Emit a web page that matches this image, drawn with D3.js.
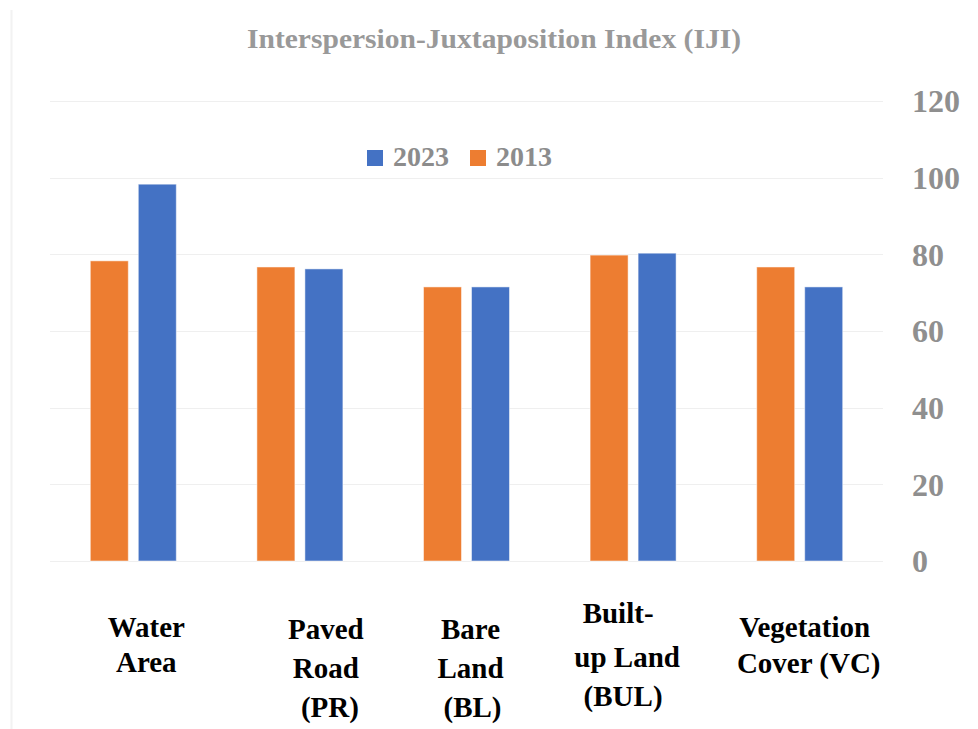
<!DOCTYPE html>
<html>
<head>
<meta charset="utf-8">
<script src="https://cdn.jsdelivr.net/npm/d3@7"></script>
<style>
  html, body { margin: 0; padding: 0; background: #fff; }
  svg { display: block; }
</style>
</head>
<body>
<svg id="chart" width="978" height="729" font-family="Liberation Serif" font-weight="bold"></svg>
<script>
// ---- data ----
const categories = ["Water Area", "Paved Road (PR)", "Bare Land (BL)", "Built-up Land (BUL)", "Vegetation Cover (VC)"];
const categoryLines = [
  ["Water", "Area"],
  ["Paved", "Road", "(PR)"],
  ["Bare", "Land", "(BL)"],
  ["Built-", "up Land", "(BUL)"],
  ["Vegetation", "Cover (VC)"]
];
const seriesNames = ["2013", "2023"];
const values2013 = [78.3, 76.7, 71.5, 79.8, 76.7];
const values2023 = [98.3, 76.2, 71.5, 80.3, 71.5];
const yTicks = [0, 20, 40, 60, 80, 100, 120];
const legendOrder = ["2023", "2013"];
const titleText = "Interspersion-Juxtaposition Index (IJI)";

// ---- layout ----
const FONT = "Liberation Serif";
const colors = { "2013": "#ED7D31", "2023": "#4472C4" };
const labelDx = [13, 26, 4, -10, 6];
const labelLineDx = [[0, 0], [0, 0, 4], [0, 0, 2], [-5, 4, 0], [-1, 3]];
const labelBaselines = [[637, 672], [639, 678, 717], [639, 678, 717], [623, 667, 706], [637, 673]];

const svg = d3.select("#chart");

// faint frame line on left
svg.append("line").attr("x1", 11.5).attr("x2", 11.5).attr("y1", 10).attr("y2", 729)
  .attr("stroke", "#f2f2f2").attr("stroke-width", 2);

const x = d3.scaleBand().domain(categories).range([50, 883]).paddingInner(0).paddingOuter(0);
const xs = d3.scaleBand().domain(seriesNames).range([0, 86]).paddingInner(10 / 48).paddingOuter(0);
const y = d3.scaleLinear().domain([0, 120]).range([561, 101]);

// gridlines
svg.append("g")
  .selectAll("line").data(yTicks).join("line")
  .attr("x1", 50).attr("x2", 883)
  .attr("y1", d => Math.round(y(d)) + 0.5).attr("y2", d => Math.round(y(d)) + 0.5)
  .attr("stroke", "#efefef").attr("stroke-width", 1.2);

// y axis on right (labels only)
const yAxis = d3.axisRight(y).tickValues(yTicks).tickSize(0).tickPadding(0).tickFormat(d3.format("d"));
const ya = svg.append("g").attr("transform", "translate(912,0)").call(yAxis);
ya.select(".domain").remove();
ya.attr("font-family", FONT).attr("font-size", 32).attr("font-weight", "bold");
ya.selectAll("text")
  .attr("font-family", FONT)
  .attr("fill", "#8f8f8f")
  .attr("dy", "0.34em");

// bars
const series = seriesNames.map(s => ({ name: s, values: s === "2013" ? values2013 : values2023 }));
const groups = svg.append("g").selectAll("g").data(categories).join("g")
  .attr("transform", d => `translate(${x(d) + x.bandwidth() / 2 - 43},0)`);
groups.selectAll("rect")
  .data((d, i) => series.map(s => ({ key: s.name, value: s.values[i] })))
  .join("rect")
  .attr("x", d => xs(d.key))
  .attr("width", xs.bandwidth())
  .attr("y", d => y(d.value))
  .attr("height", d => y(0) - y(d.value))
  .attr("fill", d => colors[d.key])
  .attr("stroke", "rgba(255,255,255,0.5)")
  .attr("stroke-width", 1);

// title
svg.append("text")
  .attr("x", 494).attr("y", 48)
  .attr("text-anchor", "middle")
  .attr("font-family", FONT)
  .attr("font-size", 27)
  .attr("fill", "#999999")
  .attr("textLength", 494)
  .attr("lengthAdjust", "spacingAndGlyphs")
  .text(titleText);

// legend
const legendX = [367, 470];
const leg = svg.append("g").selectAll("g").data(legendOrder).join("g")
  .attr("transform", (d, i) => `translate(${legendX[i]},150)`);
leg.append("rect").attr("width", 16).attr("height", 16).attr("fill", d => colors[d]);
leg.append("text")
  .attr("x", 26).attr("y", 16)
  .attr("font-family", FONT)
  .attr("font-size", 28)
  .attr("fill", "#8c8c8c")
  .text(d => d);

// category labels
const lab = svg.append("g").selectAll("g").data(categories).join("g");
lab.each(function (d, i) {
  const cx = x(d) + x.bandwidth() / 2 + labelDx[i];
  d3.select(this).selectAll("text").data(categoryLines[i]).join("text")
    .attr("x", (t, j) => cx + labelLineDx[i][j])
    .attr("y", (t, j) => labelBaselines[i][j])
    .attr("text-anchor", "middle")
    .attr("font-family", FONT)
    .attr("font-size", 29)
    .attr("fill", "#000")
    .text(t => t);
});
</script>
</body>
</html>
